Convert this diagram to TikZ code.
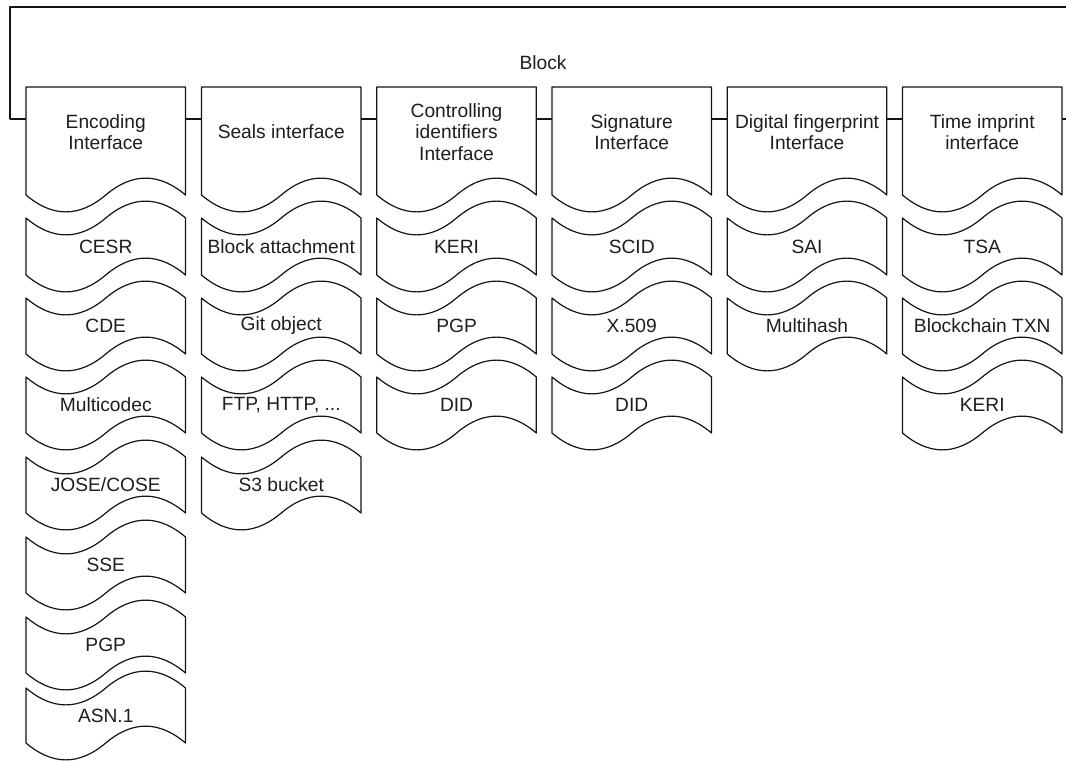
\documentclass[tikz,border=0pt]{standalone}
\usepackage{fontspec}
\setmainfont{Liberation Sans}
\definecolor{inkline}{RGB}{20,20,20}
\definecolor{inktext}{RGB}{30,30,30}
\tikzset{
  shapeline/.style={draw=inkline, line width=1.2pt, fill=white, line join=round},
  txt/.style={text=inktext, align=center, inner sep=0pt,
              font=\fontsize{19.2}{21.7}\selectfont},
}
% Interface header: flat top, wavy bottom (width 159.5, body height 108)
\newcommand\ifaceheader[3]{%
  \begin{scope}[shift={(#2,87)}]
    \path[shapeline] (0,0) -- (159.5,0) -- (159.5,108)
      .. controls (132.92,85.5) and (106.33,85.5) .. (79.75,108)
      .. controls (53.17,130.5) and (26.58,130.5) .. (0,108) -- cycle;
    \node[txt] (#1) at (79.75,45) {#3};
  \end{scope}}
% Implementation tape: wavy top and bottom; #2 left, #3 top, #4 height
\newcommand\impltape[5]{%
  \begin{scope}[shift={(#2,#3)}]
    \path[shapeline] (0,0)
      .. controls (26.58,22.5) and (53.17,22.5) .. (79.75,0)
      .. controls (106.33,-22.5) and (132.92,-22.5) .. (159.5,0)
      -- (159.5,#4)
      .. controls (132.92,{#4-22.5}) and (106.33,{#4-22.5}) .. (79.75,#4)
      .. controls (53.17,{#4+22.5}) and (26.58,{#4+22.5}) .. (0,#4) -- cycle;
    \node[txt] (#1) at (79.75,{#4/2}) {#5};
  \end{scope}}
\begin{document}
\begin{tikzpicture}[x=1pt,y=-1pt]
  \useasboundingbox (0,0) rectangle (1066,761);
  % Block container outline
  \draw[shapeline, fill=none] (1066,7) -- (10,7) -- (10,119) -- (1066,119);
  \node[txt] (block) at (543,63) {Block};

  % Column headers
  \ifaceheader{enc}{26}{Encoding\\Interface}
  \ifaceheader{seal}{201.5}{Seals interface}
  \ifaceheader{ctrl}{376.8}{Controlling\\identifiers\\Interface}
  \ifaceheader{sig}{552}{Signature\\Interface}
  \ifaceheader{fp}{727.3}{Digital fingerprint\\Interface}
  \ifaceheader{time}{902.5}{Time imprint\\interface}

  % Encoding
  \impltape{cesr}{26}{218}{57}{CESR}
  \impltape{cde}{26}{298}{56}{CDE}
  \impltape{mcodec}{26}{377}{56}{Multicodec}
  \impltape{jose}{26}{457}{56}{JOSE/COSE}
  \impltape{sse}{26}{537}{56}{SSE}
  \impltape{encpgp}{26}{617}{56}{PGP}
  \impltape{asn}{26}{688}{55}{ASN.1}

  % Seals
  \impltape{battach}{201.5}{218}{57}{Block attachment}
  \impltape{git}{201.5}{298}{56}{Git object}
  \impltape{ftp}{201.5}{377}{56}{FTP, HTTP, ...}
  \impltape{sthree}{201.5}{457}{56}{S3 bucket}

  % Controlling identifiers
  \impltape{ctrlkeri}{376.8}{218}{57}{KERI}
  \impltape{ctrlpgp}{376.8}{298}{56}{PGP}
  \impltape{ctrldid}{376.8}{377}{56}{DID}

  % Signature
  \impltape{scid}{552}{218}{57}{SCID}
  \impltape{xfivenine}{552}{298}{56}{X.509}
  \impltape{sigdid}{552}{377}{56}{DID}

  % Digital fingerprint
  \impltape{sai}{727.3}{218}{57}{SAI}
  \impltape{mhash}{727.3}{298}{56}{Multihash}

  % Time imprint
  \impltape{tsa}{902.5}{218}{57}{TSA}
  \impltape{btxn}{902.5}{298}{56}{Blockchain TXN}
  \impltape{timekeri}{902.5}{377}{56}{KERI}
\end{tikzpicture}
\end{document}
